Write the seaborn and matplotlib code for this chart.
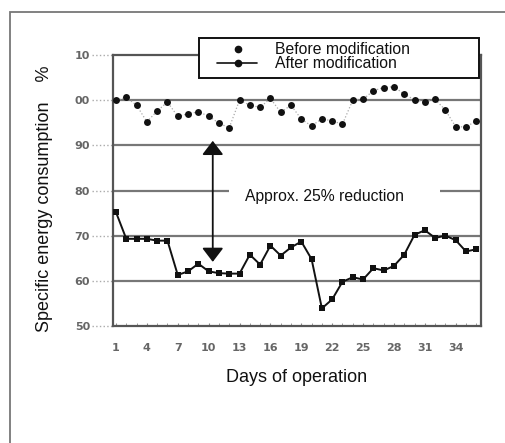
import matplotlib
matplotlib.use("Agg")
import matplotlib.pyplot as plt
from matplotlib.patches import Rectangle
from matplotlib.lines import Line2D
import pandas as pd
import seaborn as sns

# values
days = list(range(1, 37))
before_mod = [100.0, 100.6, 98.9, 95.2, 97.6, 99.6, 96.4, 97.0, 97.4, 96.5, 94.9, 93.9,
              100.0, 98.9, 98.4, 100.4, 97.3, 98.9, 95.8, 94.3, 95.9, 95.4, 94.7, 100.0,
              100.2, 102.1, 102.8, 103.0, 101.3, 100.1, 99.6, 100.2, 97.8, 94.1, 94.1, 95.4]
after_mod = [75.2, 69.3, 69.3, 69.3, 68.9, 68.9, 61.3, 62.1, 63.8, 62.1, 61.7, 61.6,
             61.6, 65.8, 63.6, 67.8, 65.6, 67.4, 68.7, 64.8, 53.9, 55.9, 59.8, 60.8,
             60.3, 62.8, 62.3, 63.3, 65.8, 70.2, 71.2, 69.5, 70.0, 69.0, 66.5, 67.0]
y_ticks = [50, 60, 70, 80, 90, 100, 110]
y_tick_labels = ["50", "60", "70", "80", "90", "00", "10"]
x_ticks = [1, 4, 7, 10, 13, 16, 19, 22, 25, 28, 31, 34]
grid_full = [60, 70, 90, 100]

df = pd.DataFrame({"day": days, "before": before_mod, "after": after_mod})

sns.set_style("white")
plt.rcParams['font.family'] = ['Liberation Sans', 'DejaVu Sans']

fig = plt.figure(figsize=(5.06, 4.43), dpi=100)
ax = fig.add_axes([0.2233, 0.2641, 0.727, 0.6117])

# outer border of the picture (top and left visible)
fig.patches.append(Rectangle((10 / 506, -0.1), 2, 1 - 12 / 443 + 0.1, transform=fig.transFigure,
                             fill=False, edgecolor="#777777", lw=1.3))

# horizontal reference lines
for g in grid_full:
    ax.axhline(g, color="#777777", lw=1.6, zorder=1)
ax.hlines(80, 0.7, 12.0, color="#777777", lw=1.6, zorder=1)
ax.hlines(80, 32.5, 36.5, color="#777777", lw=1.6, zorder=1)

sns.lineplot(data=df, x="day", y="before", ax=ax, color="#aaaaaa", lw=0.9,
             linestyle=":", zorder=2)
sns.scatterplot(data=df, x="day", y="before", ax=ax, color="#111111", s=25,
                linewidth=0, zorder=3)
sns.lineplot(data=df, x="day", y="after", ax=ax, color="#111111", lw=1.4,
             marker="s", markersize=4.8, markeredgewidth=0, zorder=3)

ax.set_xlim(0.71, 36.44)
ax.set_ylim(50, 110)

# reduction arrow and note
ax.annotate("", xy=(10.4, 64.2), xytext=(10.4, 91.0),
            arrowprops=dict(arrowstyle="<|-|>,head_length=0.85,head_width=0.65",
                            mutation_scale=10, color="#111111", lw=1.3,
                            shrinkA=0, shrinkB=0), zorder=4)
ax.text(13.5, 78.7, "Approx. 25% reduction", fontsize=11.3, ha="left", va="center",
        color="#111111")

# ticks
ax.set_yticks(y_ticks)
ax.set_yticklabels(y_tick_labels)
ax.set_xticks(x_ticks)
ax.set_xticks(days, minor=True)
ax.tick_params(axis="y", length=0, pad=16.5, labelsize=8, labelcolor="#666666")
ax.tick_params(axis="x", which="both", direction="in", length=2.5, color="#888888",
               bottom=True, pad=12, labelsize=8, labelcolor="#666666")
for lab in ax.get_xticklabels() + ax.get_yticklabels():
    lab.set_fontweight("bold")
    lab.set_fontfamily("DejaVu Sans")
ax.hlines(y_ticks, -0.057, 0, transform=ax.get_yaxis_transform(), colors="#aaaaaa",
          linestyles=":", lw=1, clip_on=False)

for sp in ax.spines.values():
    sp.set_color("#555555")
    sp.set_linewidth(1.6)

ax.set_xlabel("Days of operation", fontsize=13, color="#111111", labelpad=12)
ax.set_ylabel("Specific energy consumption    %", fontsize=13, color="#111111")
ax.yaxis.set_label_coords(-0.163, 0.47)

# legend box
fig.patches.append(Rectangle((199 / 506, 1 - 78 / 443), 280 / 506, 40 / 443,
                             transform=fig.transFigure, facecolor="white",
                             edgecolor="#111111", lw=1.4, zorder=5))
fig.lines.append(Line2D([238 / 506], [1 - 49 / 443], transform=fig.transFigure,
                        marker="o", markersize=4.5, color="#111111", lw=0, zorder=6))
fig.lines.append(Line2D([217 / 506, 257 / 506], [1 - 63 / 443, 1 - 63 / 443],
                        transform=fig.transFigure, color="#111111", lw=1.2, zorder=6))
fig.lines.append(Line2D([238 / 506], [1 - 63 / 443], transform=fig.transFigure,
                        marker="o", markersize=4.5, color="#111111", lw=0, zorder=6))
fig.text(275 / 506, 1 - 49 / 443, "Before modification", fontsize=11.3, va="center",
         ha="left", color="#111111", zorder=7)
fig.text(275 / 506, 1 - 63 / 443, "After modification", fontsize=11.3, va="center",
         ha="left", color="#111111", zorder=7)

fig.savefig("out.png", dpi=100)
